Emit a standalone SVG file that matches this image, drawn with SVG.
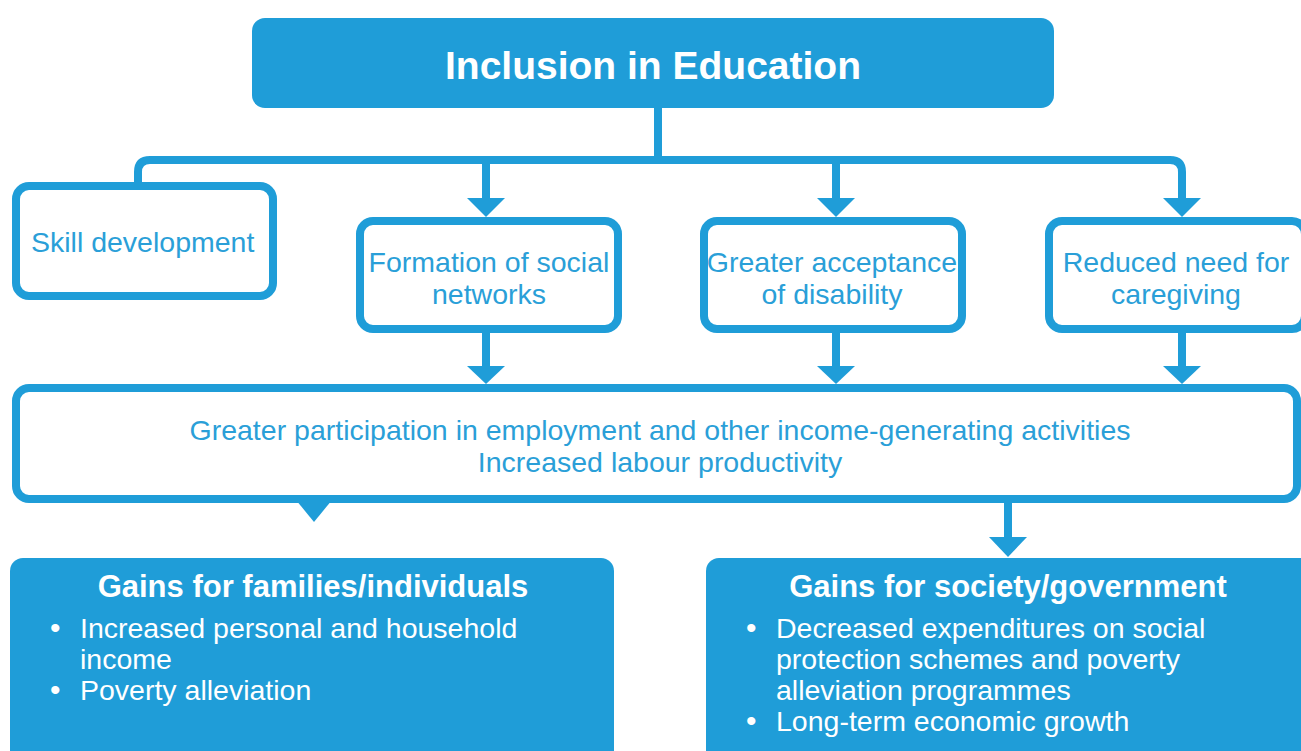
<svg xmlns="http://www.w3.org/2000/svg" width="1301" height="751" viewBox="0 0 1301 751">
<style>
.fill{fill:#1f9dd8}
.box{fill:#fff;stroke:#1f9dd8;stroke-width:8}
.line{fill:none;stroke:#1f9dd8;stroke-width:8}
.head{fill:#1f9dd8}
.t{font-family:"Liberation Sans",Arial,sans-serif;font-size:28.5px;fill:#2a9fd8}
.c{text-anchor:middle}
.title{font-family:"Liberation Sans",Arial,sans-serif;font-weight:bold;fill:#fff}
.w{font-family:"Liberation Sans",Arial,sans-serif;font-size:28.5px;fill:#fff}
.b{font-family:"Liberation Sans",Arial,sans-serif;font-size:30px;fill:#fff}
</style>
<rect width="1301" height="751" fill="#fff"/>
<g id="connectors">
<path class="line" d="M658 107 V160"/>
<path class="line" d="M138 186 V172 Q138 160 150 160 H1170 Q1182 160 1182 172 V200"/>
<path class="line" d="M486 160 V200"/>
<path class="line" d="M836 160 V200"/>
<polygon class="head" points="467,198 505,198 486,217"/>
<polygon class="head" points="817,198 855,198 836,217"/>
<polygon class="head" points="1163,198 1201,198 1182,217"/>
<path class="line" d="M486 330 V368"/>
<path class="line" d="M836 330 V368"/>
<path class="line" d="M1182 330 V368"/>
<polygon class="head" points="467,366 505,366 486,384"/>
<polygon class="head" points="817,366 855,366 836,384"/>
<polygon class="head" points="1163,366 1201,366 1182,384"/>
<polygon class="head" points="296,500 332,500 314,522"/>
<path class="line" d="M1008 500 V540"/>
<polygon class="head" points="989,537 1027,537 1008,557"/>
</g>
<g id="inclusion">
<rect class="fill" x="252" y="18" width="802" height="90" rx="13"/>
<text class="title c" x="653" y="79" font-size="39">Inclusion in Education</text>
</g>
<g id="skill">
<rect class="box" x="16" y="186" width="257" height="110" rx="13"/>
<text class="t" x="31" y="252">Skill development</text>
</g>
<g id="formation">
<rect class="box" x="360" y="221" width="258" height="108" rx="13"/>
<text class="t c" x="489" y="272">Formation of social</text>
<text class="t c" x="489" y="304">networks</text>
</g>
<g id="acceptance">
<rect class="box" x="704" y="221" width="258" height="108" rx="13"/>
<text class="t c" x="832" y="272">Greater acceptance</text>
<text class="t c" x="832" y="304">of disability</text>
</g>
<g id="caregiving">
<rect class="box" x="1049" y="221" width="256" height="108" rx="13"/>
<text class="t c" x="1176" y="272">Reduced need for</text>
<text class="t c" x="1176" y="304">caregiving</text>
</g>
<g id="participation">
<rect class="box" x="16" y="388" width="1281" height="111" rx="13"/>
<text class="t c" x="660" y="440">Greater participation in employment and other income-generating activities</text>
<text class="t c" x="660" y="472">Increased labour productivity</text>
</g>
<g id="families">
<rect class="fill" x="10" y="558" width="604" height="210" rx="13"/>
<text class="title c" x="313" y="597" font-size="31">Gains for families/individuals</text>
<text class="b" x="50" y="638">•</text>
<text class="w" x="80" y="638">Increased personal and household</text>
<text class="w" x="80" y="669">income</text>
<text class="b" x="50" y="700">•</text>
<text class="w" x="80" y="700">Poverty alleviation</text>
</g>
<g id="society">
<rect class="fill" x="706" y="558" width="610" height="210" rx="13"/>
<text class="title c" x="1008" y="597" font-size="31">Gains for society/government</text>
<text class="b" x="746" y="638">•</text>
<text class="w" x="776" y="638">Decreased expenditures on social</text>
<text class="w" x="776" y="669">protection schemes and poverty</text>
<text class="w" x="776" y="700">alleviation programmes</text>
<text class="b" x="746" y="731">•</text>
<text class="w" x="776" y="731">Long-term economic growth</text>
</g>
</svg>
